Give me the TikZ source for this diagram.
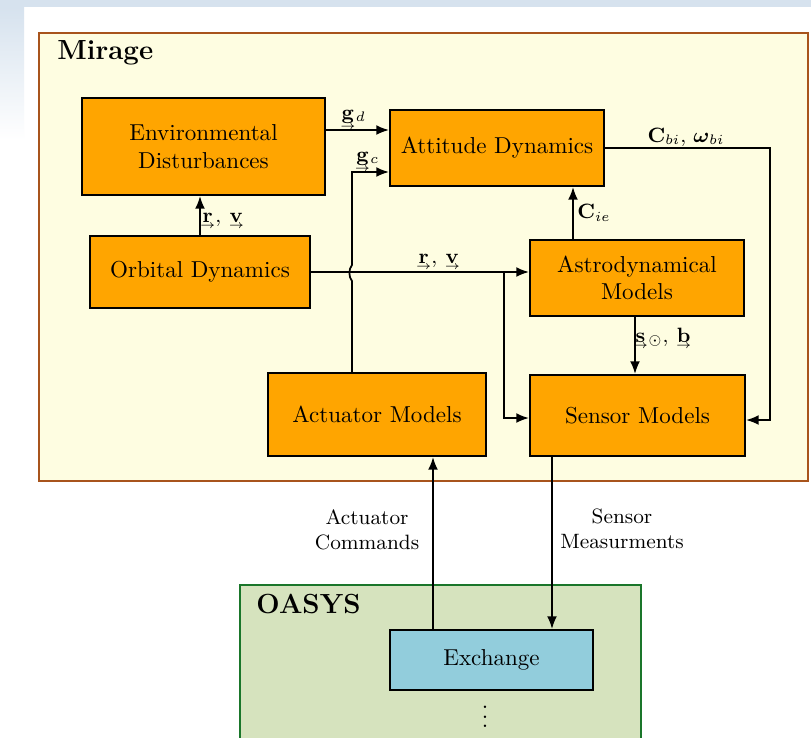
\documentclass[tikz,border=0pt]{standalone}
\usepackage{amsmath,amssymb}
\usetikzlibrary{arrows.meta,calc}
\definecolor{boxorange}{RGB}{255,165,0}
\definecolor{miragefill}{RGB}{254,253,225}
\definecolor{miragedraw}{RGB}{168,84,28}
\definecolor{oasysfill}{RGB}{214,227,190}
\definecolor{oasysdraw}{RGB}{26,118,42}
\definecolor{exchblue}{RGB}{146,205,220}
\definecolor{skyblue}{RGB}{214,226,238}
\newcommand{\uv}[1]{\mathord{\smash[b]{\vtop{\offinterlineskip\halign{\hfil##\hfil\cr$\mathbf{#1}$\cr\noalign{\kern0.6pt}$\scriptscriptstyle\rightarrow$\cr}}}}}
\begin{document}
\begin{tikzpicture}[x=0.434pt,y=-0.434pt,
  blk/.style={draw=black, line width=0.9pt, fill=boxorange, align=center, inner sep=0pt, font=\normalsize},
  arr/.style={-{Latex[length=5.5pt,width=4.3pt]}, line width=0.75pt},
  lbl/.style={font=\small, inner sep=1pt},
  grp/.style={font=\large\bfseries, anchor=west, inner sep=0pt}]
\clip (0,0) rectangle (811,737);
% background
\fill[white] (0,0) rectangle (811,737);
\fill[skyblue] (0,0) rectangle (811,7);
\shade[top color=skyblue, bottom color=white] (0,7) rectangle (24,140);
% groups
\draw[miragedraw, fill=miragefill, line width=1pt] (39,33) rectangle (808,481);
\draw[oasysdraw, fill=oasysfill, line width=1pt] (240,585) rectangle (641,745);
\node[grp] (mirage) at (57,53) {Mirage};
\node[grp] (oasys) at (256,604) {OASYS};
% blocks
\node[blk, minimum width=243*0.434pt, minimum height=97*0.434pt] (env) at (203.5,146.5) {Environmental\\Disturbances};
\node[blk, minimum width=214*0.434pt, minimum height=76*0.434pt] (att) at (497,148) {Attitude Dynamics};
\node[blk, minimum width=220*0.434pt, minimum height=72*0.434pt] (orb) at (200,272) {Orbital Dynamics};
\node[blk, minimum width=214*0.434pt, minimum height=76*0.434pt] (astro) at (637,278) {Astrodynamical\\Models};
\node[blk, minimum width=218*0.434pt, minimum height=83*0.434pt] (act) at (377,414.5) {Actuator Models};
\node[blk, minimum width=215*0.434pt, minimum height=81*0.434pt] (sen) at (637.5,415.5) {Sensor Models};
\node[blk, fill=exchblue, minimum width=203*0.434pt, minimum height=60*0.434pt] (exch) at (491.5,660) {Exchange};
\node[inner sep=0pt] (dots) at (485,710) {$\vdots$};
% helper coordinates
\coordinate (ygd) at (0,130);
\coordinate (ygc) at (0,172);
\coordinate (xgc) at (352,0);
\coordinate (xbr) at (504,0);
\coordinate (ybr) at (0,418);
\coordinate (xcie) at (573,0);
\coordinate (xret) at (770,0);
\coordinate (yret) at (0,420);
\coordinate (xsb) at (635,0);
\coordinate (xac) at (433,0);
\coordinate (xsm) at (552,0);
% connectors
\draw[arr] (env.east |- ygd) -- (att.west |- ygd);
\draw[arr] (xgc |- act.north) -- (352,281) .. controls (348.5,277) and (348.5,269) .. (352,265) -- (xgc |- ygc) -- (att.west |- ygc);
\draw[arr] (orb.north) -- (orb.north |- env.south);
\draw[arr] (orb.east) -- (astro.west |- orb.east);
\draw[arr] (xbr |- orb.east) -- (xbr |- ybr) -- (sen.west |- ybr);
\draw[arr] (xcie |- astro.north) -- (xcie |- att.south);
\draw[arr] (att.east) -- (xret |- att.east) -- (xret |- yret) -- (sen.east |- yret);
\draw[arr] (xsb |- astro.south) -- (xsb |- sen.north);
\draw[arr] (xac |- exch.north) -- (xac |- act.south);
\draw[arr] (xsm |- sen.south) -- (xsm |- exch.north);
% labels
\node[lbl] (lgd) at (353,116) {$\uv{g}_d$};
\node[lbl] (lgc) at (367,158) {$\uv{g}_c$};
\node[lbl] (lcbi) at (686,137) {$\mathbf{C}_{bi}$, $\boldsymbol{\omega}_{bi}$};
\node[lbl] (lcie) at (594,213) {$\mathbf{C}_{ie}$};
\node[lbl] (lrv1) at (222,220) {$\uv{r}$, $\uv{v}$};
\node[lbl] (lrv2) at (438,261) {$\uv{r}$, $\uv{v}$};
\node[lbl] (lsb) at (662,337) {$\uv{s}_{\odot}$, $\uv{b}$};
\node[lbl, align=center] (lac) at (367,530) {Actuator\\Commands};
\node[lbl, align=center] (lsm) at (622,529) {Sensor\\Measurments};
\end{tikzpicture}
\end{document}
